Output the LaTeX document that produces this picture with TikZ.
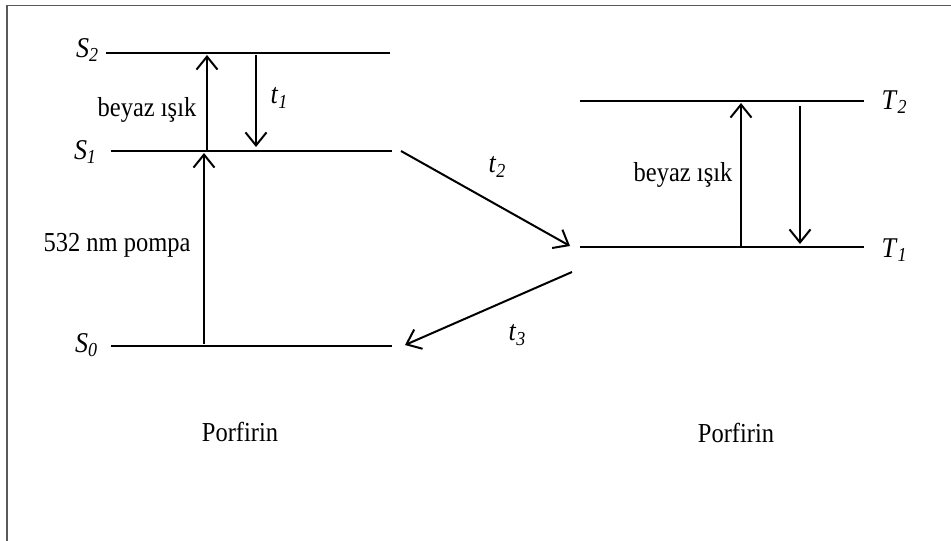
\documentclass[tikz,border=0pt]{standalone}
\usepackage{fontspec}
\setmainfont{Liberation Serif}
\usetikzlibrary{arrows.meta}
\newcommand\lvl[2]{\scalebox{1}[1.1]{\fontsize{26}{28}\selectfont\textit{#1}\raisebox{-0.35ex}{\fontsize{18}{18}\selectfont\textit{#2}}}}
\newcommand\tx[1]{\scalebox{1}[1.12]{#1}}
\begin{document}
\begin{tikzpicture}[x=1pt,y=-1pt,
  level/.style={line width=2.8pt},
  trans/.style={line width=2pt,-{Straight Barb[length=13pt,width=21pt,line width=2pt]}},
  txt/.style={inner sep=0pt,font=\fontsize{24.5}{27}\selectfont},
  frame/.style={draw=black!65,line width=1.6pt}]
\useasboundingbox (0,0) rectangle (951,541);
\draw[frame] (7,541) -- (7,5.5) -- (951,5.5);
% level endpoints
\coordinate (s2a) at (106,53);  \coordinate (s2b) at (390,53);
\coordinate (s1a) at (111,151); \coordinate (s1b) at (392,151);
\coordinate (s0a) at (111,346); \coordinate (s0b) at (392,346);
\coordinate (t2a) at (580,101); \coordinate (t2b) at (864,101);
\coordinate (t1a) at (580,247); \coordinate (t1b) at (864,247);
\draw[level] (s2a) -- (s2b);
\draw[level] (s1a) -- (s1b);
\draw[level] (s0a) -- (s0b);
\draw[level] (t2a) -- (t2b);
\draw[level] (t1a) -- (t1b);
% level labels
\node[txt] (ls2) at (87,50) {\lvl{S}{2}};
\node[txt] (ls1) at (85,152) {\lvl{S}{1}};
\node[txt] (ls0) at (86,345) {\lvl{S}{0}};
\node[txt] (lt2) at (894,102) {\lvl{T}{2}};
\node[txt] (lt1) at (894,250) {\lvl{T}{1}};
% transitions
\coordinate (a1s) at (207,151); \coordinate (a1e) at (207,55);
\coordinate (a2s) at (256,55);  \coordinate (a2e) at (256,147);
\coordinate (a3s) at (204,344); \coordinate (a3e) at (204,153);
\coordinate (a4s) at (401,151); \coordinate (a4e) at (570,246);
\coordinate (a5s) at (572,272); \coordinate (a5e) at (405,345);
\coordinate (a6s) at (741,247); \coordinate (a6e) at (741,103);
\coordinate (a7s) at (800,106); \coordinate (a7e) at (800,244);
\draw[trans] (a1s) -- (a1e);
\draw[trans] (a2s) -- (a2e);
\draw[trans] (a3s) -- (a3e);
\draw[trans] (a4s) -- (a4e);
\draw[trans] (a5s) -- (a5e);
\draw[trans] (a6s) -- (a6e);
\draw[trans] (a7s) -- (a7e);
% labels
\node[txt] (b1) at (147,110) {\tx{beyaz ışık}};
\node[txt] (p1) at (117,245) {\tx{532 nm pompa}};
\node[txt] (b2) at (683,175) {\tx{beyaz ışık}};
\node[txt] (lt1t) at (279,98) {\lvl{t}{1}};
\node[txt] (lt2t) at (497,167) {\lvl{t}{2}};
\node[txt] (lt3t) at (517,335) {\lvl{t}{3}};
\node[txt] (por1) at (240,432) {\tx{Porfirin}};
\node[txt] (por2) at (736,433) {\tx{Porfirin}};
\end{tikzpicture}
\end{document}
